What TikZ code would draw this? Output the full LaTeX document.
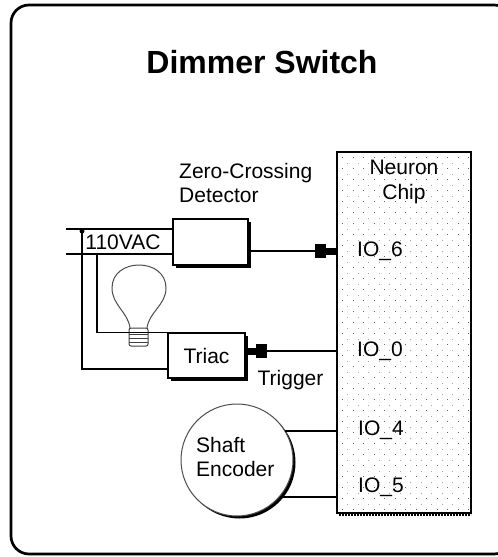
\documentclass[tikz,border=0pt]{standalone}
\usepackage{fontspec}
\setmainfont{Liberation Sans}
\usetikzlibrary{arrows.meta, shadows}

\begin{document}
\begin{tikzpicture}[x=1pt, y=-1pt,
    box/.style={draw, line width=1.3pt, fill=white, inner sep=0,
        drop shadow={shadow xshift=3pt, shadow yshift=-3pt, fill=black, opacity=1}},
    txt/.style={font=\fontsize{21}{24.5}\selectfont, inner sep=0},
    wire/.style={line width=1.3pt},
    plug/.style={wire, -{Rectangle[length=11pt, width=14pt] Rectangle[length=10pt, width=7pt]}}]
    \useasboundingbox (0, 0) rectangle (498, 557);
    \clip (0, 0) rectangle (498, 557);
    \draw[line width=2.7pt, rounded corners=18pt] (11, 5) rectangle (512, 554);

    %Nodes
    \node[font=\bfseries\fontsize{32}{36}\selectfont] at (262, 62) (title) {Dimmer Switch};
    \node[txt, anchor=west, align=left] at (179, 183) (zcd) {Zero-Crossing\\Detector};
    \node[box, minimum width=75pt, minimum height=46pt] at (210.5, 242) (det) {};
    \node[box, minimum width=77pt, minimum height=45pt] at (206.5, 355.5) (triac) {};
    \node[txt] at (triac) {Triac};
    \node[txt] at (123, 242) (vac) {110VAC};
    \node[txt] at (290.5, 380) (trig) {Trigger};

    \draw[line width=1.5pt, dash pattern=on 2pt off 1pt] (339, 515) -- (471, 515);
    \node[draw, line width=1.2pt, fill=white, minimum width=134pt, minimum height=361pt] at (404, 332.5) (chip) {};
    \foreach \y in {157, 168, ..., 510}
        \foreach \x in {342, 352.5, ..., 468}
            \fill[black!60] (\x, \y) rectangle ++(1.3, 1.3);
    \foreach \y in {162.5, 173.5, ..., 510}
        \foreach \x in {347, 357.5, ..., 468}
            \fill[black!35] (\x, \y) rectangle ++(1.3, 1.3);
    \node[txt, align=center] at (404, 182) (neuron) {Neuron\\Chip};
    \node[txt, anchor=west] at (357, 251) (io6) {IO\_6};
    \node[txt, anchor=west] at (357, 351) (io0) {IO\_0};
    \node[txt, anchor=west] at (358, 430) (io4) {IO\_4};
    \node[txt, anchor=west] at (358, 487) (io5) {IO\_5};

    \fill[black] (239.5, 462.5) circle (56);
    \node[circle, draw=black!70, line width=1pt, fill=white, minimum size=112pt, inner sep=0] at (237, 460) (enc) {};
    \node[txt, anchor=west, align=left] at (196, 457) (shaft) {Shaft\\Encoder};

    %Lamp
    \draw[black!70, line width=1pt] (130, 328) .. controls (128, 312) and (112, 305) .. (112, 288)
        .. controls (112, 273) and (125, 265) .. (139, 265)
        .. controls (153, 265) and (166, 273) .. (166, 288)
        .. controls (166, 305) and (149, 312) .. (147, 328);
    \draw[black!75, line width=1pt, rounded corners=2pt] (129, 328) rectangle (148, 346);
    \foreach \y in {334, 338, 342}
        \draw[black!75, line width=1pt] (129, \y) -- (148, \y);

    %Lines
    \coordinate (acA) at (66, 229);
    \coordinate (acB) at (66, 254);
    \coordinate (tapA) at (82, 229);
    \coordinate (tapB) at (97, 254);
    \draw[wire] (acA) -- (acA -| det.west);
    \draw[wire] (acB) -- (acB -| det.west);
    \fill (82, 231) circle (2.5);
    \draw[wire] (tapA) |- ([yshift=-13.5pt]triac.west);
    \draw[wire] (tapB) |- (triac.north west);
    \draw[plug] (det.east |- io6) -- (chip.west |- io6);
    \draw[plug] (chip.west |- io0) -- (triac.east |- io0);
    \draw[wire] (enc.31) -- (enc.31 -| chip.west);
    \draw[wire] (enc.-41) -- (enc.-41 -| chip.west);

\end{tikzpicture}
\end{document}
